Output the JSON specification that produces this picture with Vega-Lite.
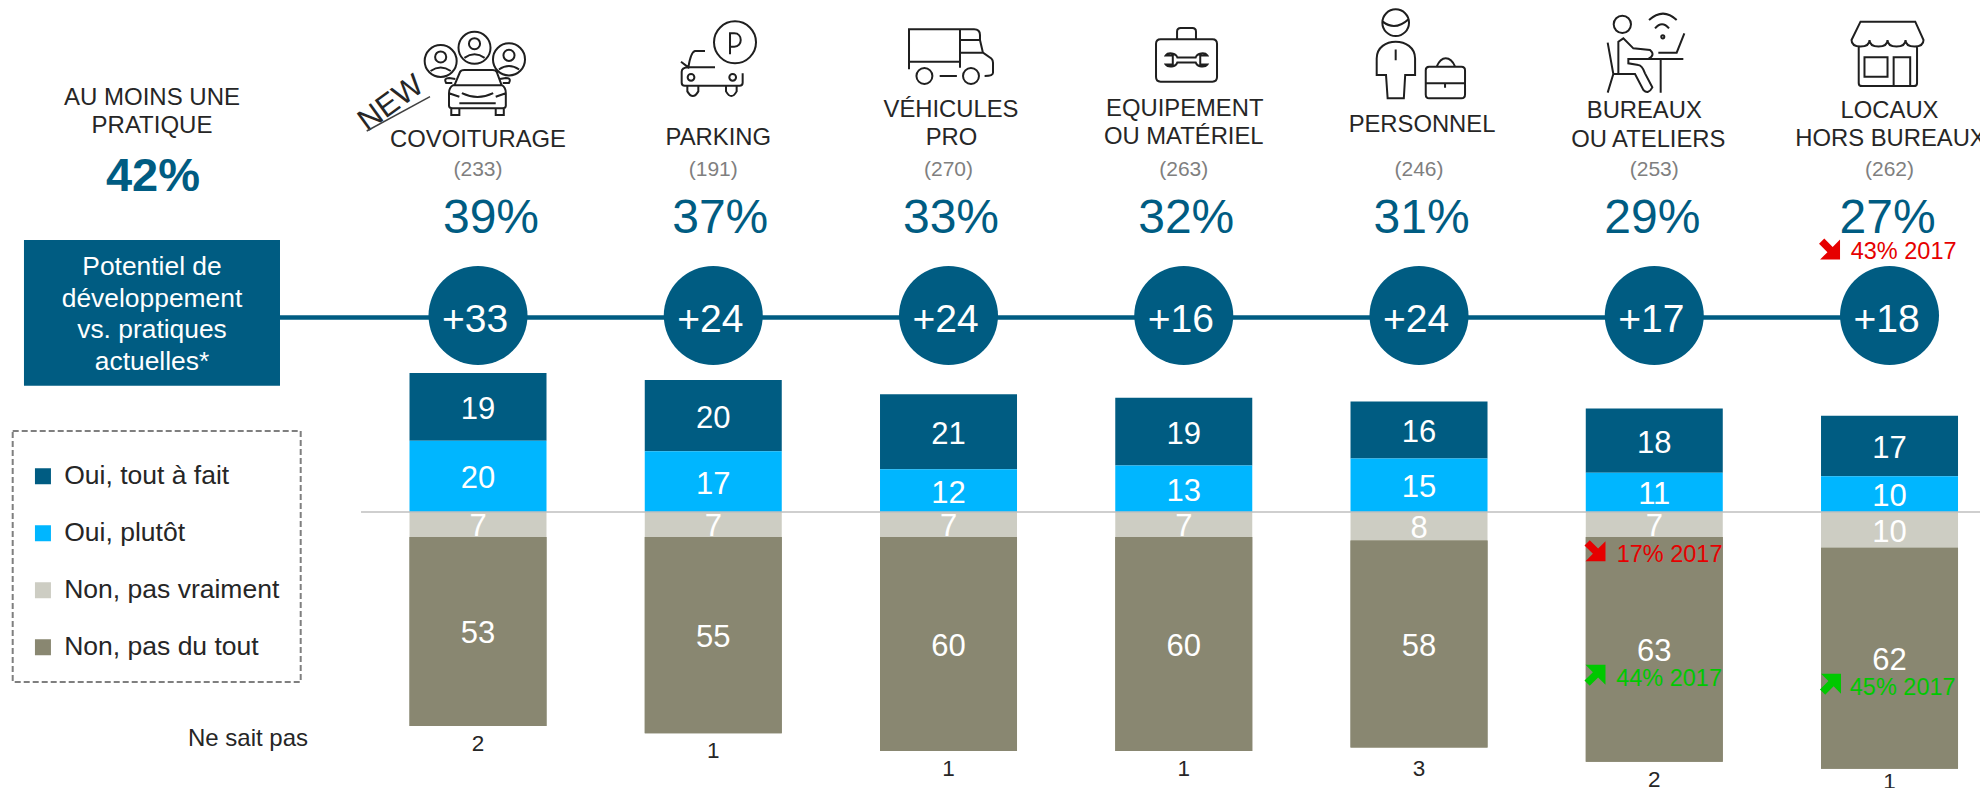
{
"$schema":"https://vega.github.io/schema/vega-lite/v6.json",
"width":1980,"height":788,"padding":0,"autosize":{"type":"none"},"background":"white",
"config":{"font":"Liberation Sans","view":{"stroke":null},"axis":{"disable":true},
"text":{"font":"Liberation Sans","baseline":"middle","align":"center","dy":2},
"legend":{"strokeColor":"#7F7F7F","strokeDash":[6,3],"strokeWidth":2,"padding":21,"rowPadding":30,"symbolOffset":-4}},
"datasets":{
"postes":[
{"idx":1,"effectif":"(233)","pratique":0.39,"potentiel":33},
{"idx":2,"effectif":"(191)","pratique":0.37,"potentiel":24},
{"idx":3,"effectif":"(270)","pratique":0.33,"potentiel":24},
{"idx":4,"effectif":"(263)","pratique":0.32,"potentiel":16},
{"idx":5,"effectif":"(246)","pratique":0.31,"potentiel":24},
{"idx":6,"effectif":"(253)","pratique":0.29,"potentiel":17},
{"idx":7,"effectif":"(262)","pratique":0.27,"potentiel":18}]},
"data":{"values":[
{"idx":1,"response":"Oui, tout à fait","value":19,"pct":19,"rank":2},
{"idx":1,"response":"Oui, plutôt","value":20,"pct":20,"rank":1},
{"idx":1,"response":"Non, pas vraiment","value":-7,"pct":7,"rank":1},
{"idx":1,"response":"Non, pas du tout","value":-53,"pct":53,"rank":2,"nsp":2},
{"idx":2,"response":"Oui, tout à fait","value":20,"pct":20,"rank":2},
{"idx":2,"response":"Oui, plutôt","value":17,"pct":17,"rank":1},
{"idx":2,"response":"Non, pas vraiment","value":-7,"pct":7,"rank":1},
{"idx":2,"response":"Non, pas du tout","value":-55,"pct":55,"rank":2,"nsp":1},
{"idx":3,"response":"Oui, tout à fait","value":21,"pct":21,"rank":2},
{"idx":3,"response":"Oui, plutôt","value":12,"pct":12,"rank":1},
{"idx":3,"response":"Non, pas vraiment","value":-7,"pct":7,"rank":1},
{"idx":3,"response":"Non, pas du tout","value":-60,"pct":60,"rank":2,"nsp":1},
{"idx":4,"response":"Oui, tout à fait","value":19,"pct":19,"rank":2},
{"idx":4,"response":"Oui, plutôt","value":13,"pct":13,"rank":1},
{"idx":4,"response":"Non, pas vraiment","value":-7,"pct":7,"rank":1},
{"idx":4,"response":"Non, pas du tout","value":-60,"pct":60,"rank":2,"nsp":1},
{"idx":5,"response":"Oui, tout à fait","value":16,"pct":16,"rank":2},
{"idx":5,"response":"Oui, plutôt","value":15,"pct":15,"rank":1},
{"idx":5,"response":"Non, pas vraiment","value":-8,"pct":8,"rank":1},
{"idx":5,"response":"Non, pas du tout","value":-58,"pct":58,"rank":2,"nsp":3},
{"idx":6,"response":"Oui, tout à fait","value":18,"pct":18,"rank":2},
{"idx":6,"response":"Oui, plutôt","value":11,"pct":11,"rank":1},
{"idx":6,"response":"Non, pas vraiment","value":-7,"pct":7,"rank":1},
{"idx":6,"response":"Non, pas du tout","value":-63,"pct":63,"rank":2,"nsp":2},
{"idx":7,"response":"Oui, tout à fait","value":17,"pct":17,"rank":2},
{"idx":7,"response":"Oui, plutôt","value":10,"pct":10,"rank":1},
{"idx":7,"response":"Non, pas vraiment","value":-10,"pct":10,"rank":1},
{"idx":7,"response":"Non, pas du tout","value":-62,"pct":62,"rank":2,"nsp":1}
]},
"transform":[
{"stack":"value","groupby":["idx"],"sort":[{"field":"rank","order":"ascending"}],"as":["y0","y1"]},
{"calculate":"(datum.y0+datum.y1)/2","as":"ymid"}],
"layer":[
{"mark":{"type":"bar","width":137,"orient":"vertical"},
 "encoding":{
 "x":{"field":"idx","type":"quantitative","scale":{"domain":[-1.0319,7.3846],"nice":false,"zero":false,"padding":0}},
 "y":{"field":"y0","type":"quantitative","scale":{"domain":[-77.38,143.54],"nice":false,"zero":false,"padding":0}},
 "y2":{"field":"y1"},
 "color":{"field":"response","type":"nominal","scale":{"domain":["Oui, tout à fait","Oui, plutôt","Non, pas vraiment","Non, pas du tout"],"range":["#005C82","#00B6FF","#CDCDC3","#898771"]},
 "legend":{"title":" ","titleFontSize":5,"titlePadding":6,"orient":"none","legendX":12.7,"legendY":431,"symbolType":"square","symbolSize":256,"symbolStrokeWidth":0,"labelFontSize":26.5,"labelColor":"#262626","labelFont":"Liberation Sans","labelOffset":8,"labelLimit":400}}}},
{"transform":[{"filter":"datum.response!=='Non, pas du tout'"}],
 "mark":{"type":"text","color":"white","fontSize":31,"dy":3},
 "encoding":{"x":{"field":"idx","type":"quantitative"},"y":{"field":"ymid","type":"quantitative"},"text":{"field":"pct"}}},
{"transform":[{"filter":"datum.response==='Non, pas du tout'"}],
 "mark":{"type":"bar","width":137,"orient":"vertical"},
 "encoding":{"x":{"field":"idx","type":"quantitative"},"y":{"field":"y0","type":"quantitative"},"y2":{"field":"y1"},"color":{"field":"response","type":"nominal"}}},
{"transform":[{"filter":"datum.response==='Non, pas du tout'"}],
 "mark":{"type":"text","color":"white","fontSize":31,"dy":3},
 "encoding":{"x":{"field":"idx","type":"quantitative"},"y":{"field":"ymid","type":"quantitative"},"text":{"field":"pct"}}},
{"transform":[{"filter":"datum.response==='Non, pas du tout'&&datum.idx!==5&&datum.idx!==7"}],
 "mark":{"type":"text","color":"#262626","fontSize":22.5,"dy":18},
 "encoding":{"x":{"field":"idx","type":"quantitative"},"y":{"field":"y1","type":"quantitative"},"text":{"field":"nsp"}}},
{"transform":[{"filter":"datum.response==='Non, pas du tout'&&datum.idx===5"}],
 "mark":{"type":"text","color":"#262626","fontSize":22.5,"dy":22},
 "encoding":{"x":{"field":"idx","type":"quantitative"},"y":{"field":"y1","type":"quantitative"},"text":{"field":"nsp"}}},
{"transform":[{"filter":"datum.response==='Non, pas du tout'&&datum.idx===7"}],
 "mark":{"type":"text","color":"#262626","fontSize":22.5,"dy":13},
 "encoding":{"x":{"field":"idx","type":"quantitative"},"y":{"field":"y1","type":"quantitative"},"text":{"field":"nsp"}}},
{"data":{"values":[{"repere":"zero"}]},"mark":{"type":"rule","color":"#BFBFBF","strokeWidth":1.5},
 "encoding":{"x":{"datum":0.5027,"type":"quantitative"},"x2":{"datum":7.3846},"y":{"datum":0,"type":"quantitative"}}},
{"data":{"values":[{"repere":"potentiel"}]},"mark":{"type":"rule","color":"#005C82","strokeWidth":4.5},
 "encoding":{"x":{"datum":0.1583,"type":"quantitative"},"x2":{"datum":7},"y":{"datum":54.53,"type":"quantitative"}}},
{"data":{"values":[{"repere":"boite"}]},"mark":{"type":"rect","color":"#005C82"},
 "encoding":{"x":{"datum":-0.930,"type":"quantitative"},"x2":{"datum":0.1583},"y":{"datum":76.25,"type":"quantitative"},"y2":{"datum":35.41}}},
{"data":{"values":[{"label":["Potentiel de","développement","vs. pratiques","actuelles*"]}]},
 "mark":{"type":"text","color":"white","fontSize":26.4,"lineHeight":31.6},
 "encoding":{"x":{"datum":-0.3858,"type":"quantitative"},"y":{"datum":69.2,"type":"quantitative"},"text":{"field":"label"}}},
{"data":{"name":"postes"},"mark":{"type":"point","filled":true,"shape":"circle","color":"#005C82","opacity":1,"size":9801},
 "encoding":{"x":{"field":"idx","type":"quantitative"},"y":{"datum":55.06,"type":"quantitative"}}},
{"data":{"name":"postes"},"mark":{"type":"text","color":"white","fontSize":39,"dy":3,"dx":-3},
 "encoding":{"x":{"field":"idx","type":"quantitative"},"y":{"datum":54.8,"type":"quantitative"},"text":{"field":"potentiel","format":"+d"}}},
{"data":{"name":"postes"},"mark":{"type":"text","color":"#7F7F7F","fontSize":21},
 "encoding":{"x":{"field":"idx","type":"quantitative"},"y":{"datum":96.5,"type":"quantitative"},"text":{"field":"effectif"}}},
{"data":{"name":"postes"},"transform":[{"filter":"datum.idx===1"}],"mark":{"type":"text","color":"#005C82","fontSize":48,"dx":13},
 "encoding":{"x":{"field":"idx","type":"quantitative"},"y":{"datum":82.8,"type":"quantitative"},"text":{"field":"pratique","format":".0%"}}},
{"data":{"name":"postes"},"transform":[{"filter":"datum.idx===2"}],"mark":{"type":"text","color":"#005C82","fontSize":48,"dx":7},
 "encoding":{"x":{"field":"idx","type":"quantitative"},"y":{"datum":82.8,"type":"quantitative"},"text":{"field":"pratique","format":".0%"}}},
{"data":{"name":"postes"},"transform":[{"filter":"datum.idx>=3&&datum.idx<=5"}],"mark":{"type":"text","color":"#005C82","fontSize":48,"dx":2.5},
 "encoding":{"x":{"field":"idx","type":"quantitative"},"y":{"datum":82.8,"type":"quantitative"},"text":{"field":"pratique","format":".0%"}}},
{"data":{"name":"postes"},"transform":[{"filter":"datum.idx>=6"}],"mark":{"type":"text","color":"#005C82","fontSize":48,"dx":-2},
 "encoding":{"x":{"field":"idx","type":"quantitative"},"y":{"datum":82.8,"type":"quantitative"},"text":{"field":"pratique","format":".0%"}}},
{"data":{"values":[{"idx":1,"label":"COVOITURAGE"}]},"mark":{"type":"text","color":"#262626","fontSize":23.8},
 "encoding":{"x":{"field":"idx","type":"quantitative"},"y":{"datum":104.85,"type":"quantitative"},"text":{"field":"label"}}},
{"data":{"values":[{"idx":2,"label":"PARKING"}]},"mark":{"type":"text","color":"#262626","fontSize":23.8,"dx":5},
 "encoding":{"x":{"field":"idx","type":"quantitative"},"y":{"datum":105.5,"type":"quantitative"},"text":{"field":"label"}}},
{"data":{"values":[{"idx":3,"label":"VÉHICULES"}]},"mark":{"type":"text","color":"#262626","fontSize":23.8,"dx":2.5},
 "encoding":{"x":{"field":"idx","type":"quantitative"},"y":{"datum":113.26,"type":"quantitative"},"text":{"field":"label"}}},
{"data":{"values":[{"idx":3,"label":"PRO"}]},"mark":{"type":"text","color":"#262626","fontSize":23.8,"dx":3},
 "encoding":{"x":{"field":"idx","type":"quantitative"},"y":{"datum":105.41,"type":"quantitative"},"text":{"field":"label"}}},
{"data":{"values":[{"idx":4,"label":"EQUIPEMENT"}]},"mark":{"type":"text","color":"#262626","fontSize":23.8,"dx":1},
 "encoding":{"x":{"field":"idx","type":"quantitative"},"y":{"datum":113.65,"type":"quantitative"},"text":{"field":"label"}}},
{"data":{"values":[{"idx":4,"label":"OU MATÉRIEL"}]},"mark":{"type":"text","color":"#262626","fontSize":23.8,"dx":0},
 "encoding":{"x":{"field":"idx","type":"quantitative"},"y":{"datum":105.69,"type":"quantitative"},"text":{"field":"label"}}},
{"data":{"values":[{"idx":5,"label":"PERSONNEL"}]},"mark":{"type":"text","color":"#262626","fontSize":23.8,"dx":3},
 "encoding":{"x":{"field":"idx","type":"quantitative"},"y":{"datum":109.05,"type":"quantitative"},"text":{"field":"label"}}},
{"data":{"values":[{"idx":6,"label":"BUREAUX"}]},"mark":{"type":"text","color":"#262626","fontSize":23.8,"dx":-10},
 "encoding":{"x":{"field":"idx","type":"quantitative"},"y":{"datum":112.98,"type":"quantitative"},"text":{"field":"label"}}},
{"data":{"values":[{"idx":6,"label":"OU ATELIERS"}]},"mark":{"type":"text","color":"#262626","fontSize":23.8,"dx":-6},
 "encoding":{"x":{"field":"idx","type":"quantitative"},"y":{"datum":104.85,"type":"quantitative"},"text":{"field":"label"}}},
{"data":{"values":[{"idx":7,"label":"LOCAUX"}]},"mark":{"type":"text","color":"#262626","fontSize":23.8,"dx":0},
 "encoding":{"x":{"field":"idx","type":"quantitative"},"y":{"datum":112.98,"type":"quantitative"},"text":{"field":"label"}}},
{"data":{"values":[{"idx":7,"label":"HORS BUREAUX"}]},"mark":{"type":"text","color":"#262626","fontSize":23.8,"dx":1},
 "encoding":{"x":{"field":"idx","type":"quantitative"},"y":{"datum":105.13,"type":"quantitative"},"text":{"field":"label"}}},
{"data":{"values":[{"label":"AU MOINS UNE"}]},"mark":{"type":"text","color":"#262626","fontSize":24},
 "encoding":{"x":{"datum":-0.3858,"type":"quantitative"},"y":{"datum":116.7,"type":"quantitative"},"text":{"field":"label"}}},
{"data":{"values":[{"label":"PRATIQUE"}]},"mark":{"type":"text","color":"#262626","fontSize":24},
 "encoding":{"x":{"datum":-0.3858,"type":"quantitative"},"y":{"datum":108.69,"type":"quantitative"},"text":{"field":"label"}}},
{"data":{"values":[{"total":0.42}]},"mark":{"type":"text","color":"#005C82","fontSize":47,"fontWeight":"bold","dy":4},
 "encoding":{"x":{"datum":-0.3816,"type":"quantitative"},"y":{"datum":95.0,"type":"quantitative"},"text":{"field":"total","format":".0%"}}},
{"data":{"values":[{"label":"Ne sait pas"}]},"mark":{"type":"text","color":"#262626","fontSize":24},
 "encoding":{"x":{"datum":0.0223,"type":"quantitative"},"y":{"datum":-63.1,"type":"quantitative"},"text":{"field":"label"}}},
{"data":{"values":[{"label":"NEW"}]},"mark":{"type":"text","color":"#262626","fontSize":31,"angle":-36},
 "encoding":{"x":{"datum":0.6259,"type":"quantitative"},"y":{"datum":114.94,"type":"quantitative"},"text":{"field":"label"}}},
{"data":{"values":[{"repere":"new"}]},"mark":{"type":"rule","color":"#404040","strokeWidth":1.5},
 "encoding":{"x":{"datum":0.5269,"type":"quantitative"},"x2":{"datum":0.796},"y":{"datum":106.81,"type":"quantitative"},"y2":{"datum":116.43}}},
{"data":{"values":[{"label":"43% 2017"}]},"mark":{"type":"text","color":"#E60000","fontSize":23.5},
 "encoding":{"x":{"datum":7.06,"type":"quantitative"},"y":{"datum":73.45,"type":"quantitative"},"text":{"field":"label"}}},
{"data":{"values":[{"label":"17% 2017"}]},"mark":{"type":"text","color":"#E60000","fontSize":23.5},
 "encoding":{"x":{"datum":6.065,"type":"quantitative"},"y":{"datum":-11.4,"type":"quantitative"},"text":{"field":"label"}}},
{"data":{"values":[{"label":"44% 2017"}]},"mark":{"type":"text","color":"#00C800","fontSize":23.5},
 "encoding":{"x":{"datum":6.063,"type":"quantitative"},"y":{"datum":-46.4,"type":"quantitative"},"text":{"field":"label"}}},
{"data":{"values":[{"label":"45% 2017"}]},"mark":{"type":"text","color":"#00C800","fontSize":23.5},
 "encoding":{"x":{"datum":7.056,"type":"quantitative"},"y":{"datum":-48.9,"type":"quantitative"},"text":{"field":"label"}}},
{"data":{"values":[{"sens":"baisse"}]},"mark":{"type":"point","filled":true,"color":"#E60000","opacity":1,"size":441,"shape":"M-1 -0.5 L-0.5 -1 L0.3 -0.2 L1 -0.9 L1 1 L-0.9 1 L-0.2 0.3 Z"},
 "encoding":{"x":{"datum":6.745,"type":"quantitative"},"y":{"datum":73.73,"type":"quantitative"}}},
{"data":{"values":[{"sens":"baisse"}]},"mark":{"type":"point","filled":true,"color":"#E60000","opacity":1,"size":441,"shape":"M-1 -0.5 L-0.5 -1 L0.3 -0.2 L1 -0.9 L1 1 L-0.9 1 L-0.2 0.3 Z"},
 "encoding":{"x":{"datum":5.748,"type":"quantitative"},"y":{"datum":-10.85,"type":"quantitative"}}},
{"data":{"values":[{"sens":"hausse"}]},"mark":{"type":"point","filled":true,"color":"#00C800","opacity":1,"size":441,"shape":"M-1 0.5 L-0.5 1 L0.3 0.2 L1 0.9 L1 -1 L-0.9 -1 L-0.2 -0.3 Z"},
 "encoding":{"x":{"datum":5.748,"type":"quantitative"},"y":{"datum":-45.8,"type":"quantitative"}}},
{"data":{"values":[{"sens":"hausse"}]},"mark":{"type":"point","filled":true,"color":"#00C800","opacity":1,"size":441,"shape":"M-1 0.5 L-0.5 1 L0.3 0.2 L1 0.9 L1 -1 L-0.9 -1 L-0.2 -0.3 Z"},
 "encoding":{"x":{"datum":6.749,"type":"quantitative"},"y":{"datum":-48.3,"type":"quantitative"}}},
{"data":{"values":[{"icone":"covoiturage"}]},"mark":{"type":"point","filled":false,"color":"#1F1F1F","strokeWidth":2,"opacity":1,"size":10201,
 "shape":"M-0.987 -0.238 c0 -.175 .142 -.317 .317 -.317 c.175 0 .317 .142 .317 .317 c0 .175 -.142 .317 -.317 .317 c-.175 0 -.317 -.142 -.317 -.317 z M-0.317 -0.5 c0 -.175 .142 -.317 .317 -.317 c.175 0 .317 .142 .317 .317 c0 .175 -.142 .317 -.317 .317 c-.175 0 -.317 -.142 -.317 -.317 z M0.366 -0.27 c0 -.175 .142 -.317 .317 -.317 c.175 0 .317 .142 .317 .317 c0 .175 -.142 .317 -.317 .317 c-.175 0 -.317 -.142 -.317 -.317 z M-0.78 -0.318 c0 -.061 .049 -.11 .11 -.11 c.061 0 .11 .049 .11 .11 c0 .061 -.049 .11 -.11 .11 c-.061 0 -.11 -.049 -.11 -.11 z M-0.11 -0.58 c0 -.061 .049 -.11 .11 -.11 c.061 0 .11 .049 .11 .11 c0 .061 -.049 .11 -.11 .11 c-.061 0 -.11 -.049 -.11 -.11 z M0.573 -0.35 c0 -.061 .049 -.11 .11 -.11 c.061 0 .11 .049 .11 .11 c0 .061 -.049 .11 -.11 .11 c-.061 0 -.11 -.049 -.11 -.11 z M-0.87 -0.04 Q-0.67 -0.18 -0.47 -0.04 M-0.2 -0.3 Q0 -0.44 0.2 -0.3 M0.483 -0.07 Q0.683 -0.21 0.883 -0.07 M-0.4 0.25 L-0.287 -0.02 Q-0.27 -0.06 -0.2 -0.06 L0.35 -0.06 Q0.42 -0.06 0.44 -0.02 L0.54 0.25 M-0.42 0.24 L0.54 0.24 Q0.62 0.28 0.62 0.4 L0.62 0.65 Q0.62 0.7 0.55 0.7 L-0.43 0.7 Q-0.505 0.7 -0.505 0.65 L-0.505 0.4 Q-0.505 0.28 -0.42 0.24 Z M-0.44 0.2 L-0.56 0.2 Q-0.62 0.1 -0.5 0.1 L-0.38 0.12 M0.56 0.2 L0.68 0.2 Q0.74 0.1 0.62 0.1 L0.5 0.12 M-0.25 0.4 Q0.06 0.55 0.37 0.4 M-0.505 0.4 L-0.3 0.47 M0.62 0.4 L0.42 0.47 M-0.3 0.6 L0.42 0.6 M-0.46 0.7 L-0.46 0.83 L-0.3 0.83 L-0.3 0.7 M0.42 0.7 L0.42 0.83 L0.58 0.83 L0.58 0.7"},
 "encoding":{"x":{"datum":0.9851,"type":"quantitative"},"y":{"datum":123.07,"type":"quantitative"}}},
{"data":{"values":[{"icone":"parking"}]},"mark":{"type":"point","filled":false,"color":"#1F1F1F","strokeWidth":2,"opacity":1,"size":5625,
 "shape":"M-0.12 -0.458 c0 -.309 .251 -.56 .56 -.56 c.309 0 .56 .251 .56 .56 c0 .309 -.251 .56 -.56 .56 c-.309 0 -.56 -.251 -.56 -.56 z M0.307 -0.138 L0.307 -0.698 L0.42 -0.698 C0.65 -0.698 0.65 -0.342 0.42 -0.342 L0.307 -0.342 M-0.36 -0.227 L-0.627 -0.227 Q-0.74 -0.2 -0.804 0.209 L-1 0.058 M-0.804 0.209 L-0.093 0.209 M-0.804 0.209 Q-0.982 0.22 -0.982 0.324 L-0.982 0.62 Q-0.982 0.698 -0.9 0.698 L0.56 0.698 Q0.644 0.698 0.644 0.62 L0.644 0.369 M-0.823 0.476 c0 -.05 .04 -.09 .09 -.09 c.05 0 .09 .04 .09 .09 c0 .05 -.04 .09 -.09 .09 c-.05 0 -.09 -.04 -.09 -.09 z M0.288 0.476 c0 -.05 .04 -.09 .09 -.09 c.05 0 .09 .04 .09 .09 c0 .05 -.04 .09 -.09 .09 c-.05 0 -.09 -.04 -.09 -.09 z M-0.831 0.698 L-0.831 0.85 Q-0.685 1.1 -0.538 0.85 L-0.538 0.698 M0.2 0.698 L0.2 0.85 Q0.342 1.1 0.484 0.85 L0.484 0.698"},
 "encoding":{"x":{"datum":2.0223,"type":"quantitative"},"y":{"datum":126.86,"type":"quantitative"}}},
{"data":{"values":[{"icone":"vehicules"}]},"mark":{"type":"point","filled":false,"color":"#1F1F1F","strokeWidth":2,"opacity":1,"size":7056,
 "shape":"M-1 0.317 L-1 -0.635 L0.55 -0.635 Q0.69 -0.635 0.69 -0.5 L0.69 -0.38 L0.76 -0.08 L0.96 0.06 Q1 0.1 1 0.16 L1 0.4 Q1 0.476 0.8 0.476 M-1 0.136 L0.214 0.136 M0.214 -0.635 L0.214 0.28 M0.214 -0.38 L0.69 -0.38 M0.214 -0.08 L0.76 -0.08 M-0.27 0.476 L0.14 0.476 M-0.823 0.476 c0 -.105 .085 -.19 .19 -.19 c.105 0 .19 .085 .19 .19 c0 .105 -.085 .19 -.19 .19 c-.105 0 -.19 -.085 -.19 -.19 z M0.286 0.476 c0 -.105 .085 -.19 .19 -.19 c.105 0 .19 .085 .19 .19 c0 .105 -.085 .19 -.19 .19 c-.105 0 -.19 -.085 -.19 -.19 z"},
 "encoding":{"x":{"datum":3.0106,"type":"quantitative"},"y":{"datum":127.84,"type":"quantitative"}}},
{"data":{"values":[{"icone":"equipement"}]},"mark":{"type":"point","filled":false,"color":"#1F1F1F","strokeWidth":2,"opacity":1,"size":3721,
 "shape":"M-0.85 -0.5 L0.85 -0.5 Q1 -0.5 1 -0.35 L1 0.74 Q1 0.89 0.85 0.89 L-0.85 0.89 Q-1 0.89 -1 0.74 L-1 -0.35 Q-1 -0.5 -0.85 -0.5 Z M-0.31 -0.5 L-0.31 -0.75 Q-0.31 -0.87 -0.19 -0.87 L0.19 -0.87 Q0.31 -0.87 0.31 -0.75 L0.31 -0.5 M-0.3 0.1 L0.3 0.1 C0.35 -0.05 0.6 -0.08 0.68 0.03 L0.45 0.03 L0.45 0.33 L0.68 0.33 C0.6 0.44 0.35 0.41 0.3 0.26 L-0.3 0.26 C-0.35 0.41 -0.6 0.44 -0.68 0.33 L-0.45 0.33 L-0.45 0.03 L-0.68 0.03 C-0.6 -0.08 -0.35 -0.05 -0.3 0.1 Z"},
 "encoding":{"x":{"datum":4.0117,"type":"quantitative"},"y":{"datum":128.26,"type":"quantitative"}}},
{"data":{"values":[{"icone":"personnel"}]},"mark":{"type":"point","filled":false,"color":"#1F1F1F","strokeWidth":2,"opacity":1,"size":8100,
 "shape":"M-0.837 -0.696 c0 -.163 .133 -.296 .296 -.296 c.163 0 .296 .133 .296 .296 c0 .163 -.133 .296 -.296 .296 c-.163 0 -.296 -.133 -.296 -.296 z M-0.83 -0.72 Q-0.55 -0.5 -0.25 -0.78 M-0.756 0.467 L-0.963 0.467 L-0.963 0.1 C-0.963 -0.15 -0.75 -0.274 -0.541 -0.274 C-0.33 -0.274 -0.11 -0.15 -0.11 0.1 L-0.11 0.467 L-0.33 0.467 L-0.36 0.985 L-0.72 0.985 Z M-0.541 -0.1 L-0.541 0.14 M0.2 0.281 L0.92 0.281 Q1 0.281 1 0.36 L1 0.9 Q1 0.985 0.92 0.985 L0.2 0.985 Q0.127 0.985 0.127 0.9 L0.127 0.36 Q0.127 0.281 0.2 0.281 Z M0.127 0.65 L1 0.65 M0.37 0.281 Q0.45 0.096 0.57 0.096 Q0.7 0.096 0.78 0.281 M0.556 0.65 L0.556 0.75"},
 "encoding":{"x":{"datum":5.0043,"type":"quantitative"},"y":{"datum":128.4,"type":"quantitative"}}},
{"data":{"values":[{"icone":"bureaux"}]},"mark":{"type":"point","filled":false,"color":"#1F1F1F","strokeWidth":2,"opacity":1,"size":6084,
 "shape":"M-0.829 -0.76 c0 -.123 .099 -.222 .222 -.222 c.123 0 .222 .099 .222 .222 c0 .123 -.099 .222 -.222 .222 c-.123 0 -.222 -.099 -.222 -.222 z M-0.983 -0.29 L-0.838 0.513 L-0.983 0.991 M-0.838 0.513 L-0.282 0.513 L-0.068 0.923 Q0.06 1.05 0.162 0.855 L-0.026 0.496 Q-0.1 0.29 -0.197 0.282 L-0.453 0.239 L-0.453 0.128 L0.957 0.128 M-0.709 0.513 L-0.709 -0.316 L-0.581 -0.402 L-0.325 -0.145 L0.103 -0.103 Q0.25 0.026 0.06 0.128 M0.376 0.128 L0.376 0.991 M0.316 -0.034 L0.786 -0.034 L0.983 -0.53 M0.077 -0.872 Q0.44 -1.2 0.786 -0.872 M0.231 -0.658 Q0.41 -0.87 0.59 -0.658 M0.39 -0.44 c0 -.022 .018 -.04 .04 -.04 c.022 0 .04 .018 .04 .04 c0 .022 -.018 .04 -.04 .04 c-.022 0 -.04 -.018 -.04 -.04 z"},
 "encoding":{"x":{"datum":5.9649,"type":"quantitative"},"y":{"datum":128.4,"type":"quantitative"}}},
{"data":{"values":[{"icone":"locaux"}]},"mark":{"type":"point","filled":false,"color":"#1F1F1F","strokeWidth":2,"opacity":1,"size":5184,
 "shape":"M-0.75 -0.89 L0.77 -0.89 L1 -0.38 Q1 -0.2 0.75 -0.2 Q0.5 -0.2 0.5 -0.38 Q0.5 -0.2 0.25 -0.2 Q0 -0.2 0 -0.38 Q0 -0.2 -0.25 -0.2 Q-0.5 -0.2 -0.5 -0.38 Q-0.5 -0.2 -0.75 -0.2 Q-1 -0.2 -1 -0.38 Z M-0.8 -0.23 L-0.8 0.82 Q-0.8 0.9 -0.7 0.9 L0.72 0.9 Q0.82 0.9 0.82 0.82 L0.82 -0.23 M-0.64 0.1 L0 0.1 L0 0.64 L-0.64 0.64 Z M0.17 0.9 L0.17 0.1 L0.63 0.1 L0.63 0.9"},
 "encoding":{"x":{"datum":6.9915,"type":"quantitative"},"y":{"datum":128.48,"type":"quantitative"}}}
]}
